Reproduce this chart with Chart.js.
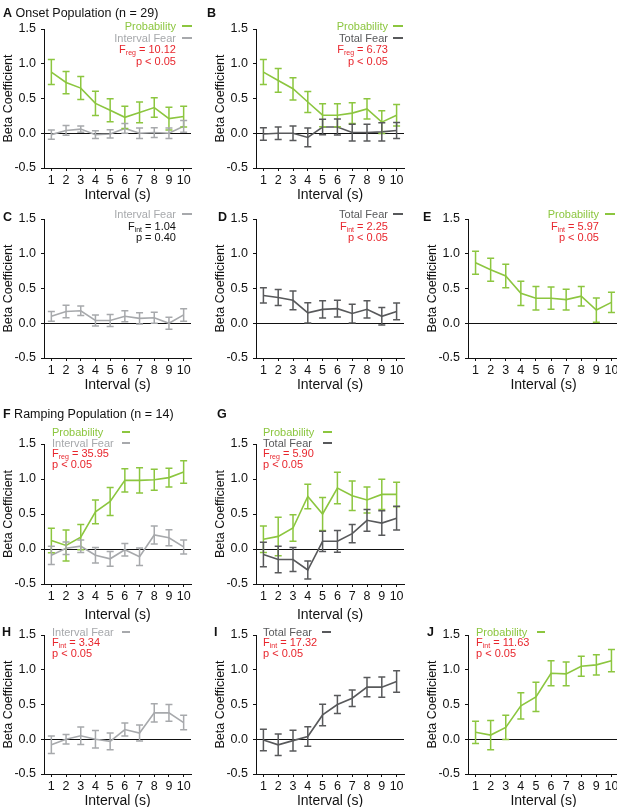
<!DOCTYPE html>
<html lang="en">
<head>
<meta charset="UTF-8">
<title>Beta Coefficients by Interval</title>
<script src="https://cdn.jsdelivr.net/npm/chart.js"></script>
<style>
    html, body {
        margin: 0;
        padding: 0;
        background: #fff;
        overflow: hidden;
    }
    #fig {
        position: relative;
        width: 617px;
        height: 807px;
        overflow: hidden;
        font-family: Arial, "Liberation Sans", Helvetica, sans-serif;
    }
    #fig canvas {
        position: absolute;
    }
    .txt {
        position: absolute;
        white-space: nowrap;
        font-size: 11px;
        line-height: 12px;
        height: 12px;
    }
    .txt sub {
        font-size: 7px;
        vertical-align: -2px;
        line-height: 0;
    }
    .panel-title {
        font-size: 12.5px;
        line-height: 14px;
        height: 14px;
        color: #111;
    }
    .panel-title b {
        font-weight: bold;
    }
    .key {
        position: absolute;
        height: 1.6px;
    }
</style>
</head>
<body>
<div id="fig"></div>
<script>
    // x categories
    const intervals = ["1", "2", "3", "4", "5", "6", "7", "8", "9", "10"];
    const yTicks = [-0.5, 0, 0.5, 1.0, 1.5];

    // A: onset population, regression
    const aProb = [0.88, 0.73, 0.65, 0.43, 0.33, 0.23, 0.30, 0.37, 0.21, 0.24];
    const aProbErr = [0.18, 0.16, 0.165, 0.175, 0.165, 0.16, 0.15, 0.14, 0.165, 0.15];
    const aIntFear = [-0.02, 0.04, 0.06, -0.02, -0.01, 0.07, 0.00, 0.01, 0.00, 0.10];
    const aIntFearErr = [0.065, 0.07, 0.045, 0.055, 0.06, 0.07, 0.075, 0.07, 0.075, 0.085];

    // B
    const bProb = [0.88, 0.76, 0.64, 0.45, 0.26, 0.26, 0.29, 0.35, 0.16, 0.26];
    const bProbErr = [0.18, 0.17, 0.16, 0.15, 0.165, 0.165, 0.15, 0.145, 0.165, 0.155];
    const bTotFear = [-0.01, 0.00, 0.00, -0.06, 0.09, 0.09, 0.01, 0.01, 0.02, 0.04];
    const bTotFearErr = [0.09, 0.09, 0.105, 0.135, 0.11, 0.115, 0.12, 0.12, 0.13, 0.115];

    // C, D, E: single predictors
    const cIntFear = [0.10, 0.17, 0.18, 0.04, 0.04, 0.10, 0.07, 0.08, 0.00, 0.12];
    const cIntFearErr = [0.07, 0.09, 0.07, 0.08, 0.085, 0.08, 0.08, 0.08, 0.085, 0.09];
    const dTotFear = [0.40, 0.37, 0.33, 0.15, 0.20, 0.21, 0.14, 0.20, 0.10, 0.17];
    const dTotFearErr = [0.11, 0.115, 0.135, 0.145, 0.125, 0.12, 0.135, 0.125, 0.125, 0.12];
    const eProb = [0.87, 0.77, 0.68, 0.43, 0.36, 0.36, 0.34, 0.39, 0.19, 0.30];
    const eProbErr = [0.165, 0.165, 0.17, 0.175, 0.17, 0.16, 0.15, 0.14, 0.175, 0.145];

    // F: ramping population, regression
    const fProb = [0.12, 0.05, 0.17, 0.53, 0.68, 0.98, 0.98, 0.99, 1.02, 1.10];
    const fProbErr = [0.175, 0.22, 0.18, 0.17, 0.20, 0.165, 0.18, 0.15, 0.135, 0.16];
    const fIntFear = [-0.09, 0.01, 0.04, -0.09, -0.14, -0.01, -0.11, 0.20, 0.16, 0.03];
    const fIntFearErr = [0.13, 0.09, 0.09, 0.11, 0.105, 0.09, 0.125, 0.13, 0.115, 0.10];

    // G
    const gProb = [0.14, 0.18, 0.30, 0.75, 0.50, 0.87, 0.76, 0.70, 0.78, 0.78];
    const gProbErr = [0.19, 0.275, 0.19, 0.175, 0.235, 0.225, 0.21, 0.185, 0.215, 0.175];
    const gTotFear = [-0.08, -0.15, -0.15, -0.30, 0.11, 0.11, 0.22, 0.41, 0.37, 0.44];
    const gTotFearErr = [0.175, 0.19, 0.17, 0.13, 0.145, 0.155, 0.13, 0.155, 0.175, 0.17];

    // H, I, J
    const hIntFear = [-0.08, 0.00, 0.05, 0.00, -0.03, 0.14, 0.09, 0.38, 0.38, 0.24];
    const hIntFearErr = [0.125, 0.07, 0.125, 0.125, 0.12, 0.095, 0.115, 0.13, 0.12, 0.105];
    const iTotFear = [-0.01, -0.08, -0.02, 0.04, 0.35, 0.50, 0.59, 0.75, 0.75, 0.83];
    const iTotFearErr = [0.155, 0.155, 0.15, 0.14, 0.155, 0.13, 0.12, 0.14, 0.145, 0.155];
    const jProb = [0.10, 0.06, 0.17, 0.48, 0.61, 0.95, 0.94, 1.05, 1.07, 1.13];
    const jProbErr = [0.16, 0.21, 0.175, 0.19, 0.21, 0.18, 0.17, 0.145, 0.145, 0.16];

    const GREEN = "#8cc63f";
    const LIGHT = "#a7a9ac";
    const DARK = "#58595b";
    const RED = "#e8262d";
    const FONT = 'Arial, "Liberation Sans", Helvetica, sans-serif';

    const PROB = { label: "Probability", color: GREEN };
    const INTF = { label: "Interval Fear", color: LIGHT };
    const TOTF = { label: "Total Fear", color: DARK };

    // axisX / top = pixel position of the y axis and of the 1.5 tick
    const panels = [
        { axisX: 44,  top: 29,  w: 147, h: 139, xh: 37, series: [[PROB, aProb, aProbErr], [INTF, aIntFear, aIntFearErr]] },
        { axisX: 256, top: 29,  w: 148, h: 139, xh: 37, series: [[PROB, bProb, bProbErr], [TOTF, bTotFear, bTotFearErr]] },
        { axisX: 44,  top: 219, w: 147, h: 139, xh: 37, series: [[INTF, cIntFear, cIntFearErr]] },
        { axisX: 256, top: 219, w: 148, h: 139, xh: 37, series: [[TOTF, dTotFear, dTotFearErr]] },
        { axisX: 468, top: 219, w: 151, h: 139, xh: 37, series: [[PROB, eProb, eProbErr]] },
        { axisX: 44,  top: 444, w: 147, h: 140, xh: 41, series: [[PROB, fProb, fProbErr], [INTF, fIntFear, fIntFearErr]] },
        { axisX: 256, top: 444, w: 148, h: 140, xh: 41, series: [[PROB, gProb, gProbErr], [TOTF, gTotFear, gTotFearErr]] },
        { axisX: 44,  top: 635, w: 147, h: 139, xh: 37, series: [[INTF, hIntFear, hIntFearErr]] },
        { axisX: 256, top: 635, w: 148, h: 139, xh: 37, series: [[TOTF, iTotFear, iTotFearErr]] },
        { axisX: 468, top: 635, w: 151, h: 139, xh: 37, series: [[PROB, jProb, jProbErr]] }
    ];

    // vertical error bars with caps, drawn through the y scale
    const errorBars = {
        id: "errorBars",
        afterDatasetsDraw(chart) {
            const ctx = chart.ctx;
            const y = chart.scales.y;
            chart.data.datasets.forEach((ds, i) => {
                const meta = chart.getDatasetMeta(i);
                ctx.save();
                ctx.strokeStyle = ds.borderColor;
                ctx.lineWidth = 1.5;
                meta.data.forEach((pt, j) => {
                    const hi = y.getPixelForValue(ds.data[j] + ds.errors[j]);
                    const lo = y.getPixelForValue(ds.data[j] - ds.errors[j]);
                    ctx.beginPath();
                    ctx.moveTo(pt.x, hi); ctx.lineTo(pt.x, lo);
                    ctx.moveTo(pt.x - 3.5, hi); ctx.lineTo(pt.x + 3.5, hi);
                    ctx.moveTo(pt.x - 3.5, lo); ctx.lineTo(pt.x + 3.5, lo);
                    ctx.stroke();
                });
                ctx.restore();
            });
        }
    };

    const fig = document.getElementById("fig");

    panels.forEach(p => {
        const canvas = document.createElement("canvas");
        const cw = 44 + p.w + 8;
        const ch = 29 + p.h + p.xh;
        canvas.width = cw;
        canvas.height = ch;
        canvas.style.width = cw + "px";
        canvas.style.height = ch + "px";
        canvas.style.left = (p.axisX - 44) + "px";
        canvas.style.top = (p.top - 29) + "px";
        fig.appendChild(canvas);

        new Chart(canvas.getContext("2d"), {
            type: "line",
            data: {
                labels: intervals,
                datasets: p.series.map(([s, values, errs]) => ({
                    label: s.label,
                    data: values,
                    errors: errs,
                    borderColor: s.color,
                    borderWidth: 1.6,
                    pointRadius: 0,
                    tension: 0,
                    fill: false,
                    clip: false
                }))
            },
            options: {
                responsive: false,
                animation: false,
                devicePixelRatio: 1,
                layout: { padding: { top: 29, right: 8, left: 0, bottom: 0 } },
                plugins: { legend: { display: false }, tooltip: { enabled: false } },
                scales: {
                    x: {
                        type: "category",
                        offset: true,
                        border: { color: "#111", width: 1 },
                        grid: { drawOnChartArea: false, tickLength: 3, color: "#111" },
                        ticks: { color: "#111", font: { family: FONT, size: 12.5 }, padding: 2, maxRotation: 0, autoSkip: false },
                        title: { display: true, text: "Interval (s)", color: "#111", font: { family: FONT, size: 14 }, padding: { top: 0, bottom: 1 } },
                        afterFit: s => { s.height = p.xh; }
                    },
                    y: {
                        min: -0.5,
                        max: 1.5,
                        afterBuildTicks: s => { s.ticks = yTicks.map(v => ({ value: v })); },
                        border: { color: "#111", width: 1 },
                        grid: {
                            color: c => (c.tick && c.tick.value === 0 ? "#111" : "rgba(0,0,0,0)"),
                            tickColor: "#111",
                            lineWidth: 1,
                            tickLength: 3
                        },
                        ticks: { color: "#111", font: { family: FONT, size: 12.5 }, padding: 5, callback: v => Number(v).toFixed(1) },
                        title: { display: true, text: "Beta Coefficient", color: "#111", font: { family: FONT, size: 12.5 }, padding: { top: 1, bottom: 0 } },
                        afterFit: s => { s.width = 44; }
                    }
                }
            },
            plugins: [errorBars]
        });
    });

    // ---- text overlays (panel letters, legends, stats) ----
    function addText(x, y, html, color, align, cls) {
        const d = document.createElement("div");
        d.className = "txt" + (cls ? " " + cls : "");
        d.innerHTML = html;
        d.style.color = color;
        const lh = cls ? 14 : 12;
        d.style.top = (y - lh / 2) + "px";
        if (align === "right") {
            d.style.left = (x - 300) + "px";
            d.style.width = "300px";
            d.style.textAlign = "right";
        } else {
            d.style.left = x + "px";
        }
        fig.appendChild(d);
    }
    function addKey(x1, x2, y, color) {
        const d = document.createElement("div");
        d.className = "key";
        d.style.left = x1 + "px";
        d.style.width = (x2 - x1) + "px";
        d.style.top = (y - 0.8) + "px";
        d.style.background = color;
        fig.appendChild(d);
    }

    const titles = [
        [3, 13, "<b>A</b> Onset Population (n = 29)"],
        [207, 13, "<b>B</b>"],
        [3, 217, "<b>C</b>"],
        [218, 217, "<b>D</b>"],
        [423, 217, "<b>E</b>"],
        [3, 414, "<b>F</b> Ramping Population (n = 14)"],
        [217, 414, "<b>G</b>"],
        [2, 632, "<b>H</b>"],
        [214, 632, "<b>I</b>"],
        [427, 632, "<b>J</b>"]
    ];
    titles.forEach(t => addText(t[0], t[1], t[2], "#111", "left", "panel-title"));

    // legend rows: [textX, align, keyX1, keyX2, rows[[y, html, color, key]]]
    const legends = [
        [176, "right", 182, 192, [[26, "Probability", GREEN, true], [38, "Interval Fear", LIGHT, true], [49, "F<sub>reg</sub> = 10.12", RED], [61, "p &lt; 0.05", RED]]],
        [388, "right", 393, 403, [[26, "Probability", GREEN, true], [38, "Total Fear", DARK, true], [49, "F<sub>reg</sub> = 6.73", RED], [61, "p &lt; 0.05", RED]]],
        [176, "right", 182, 192, [[214, "Interval Fear", LIGHT, true], [226, "F<sub>int</sub> = 1.04", "#111"], [237, "p = 0.40", "#111"]]],
        [388, "right", 393, 403, [[214, "Total Fear", DARK, true], [226, "F<sub>int</sub> = 2.25", RED], [237, "p &lt; 0.05", RED]]],
        [599, "right", 605, 615, [[214, "Probability", GREEN, true], [226, "F<sub>int</sub> = 5.97", RED], [237, "p &lt; 0.05", RED]]],
        [52, "left", 122, 130, [[432, "Probability", GREEN, true], [443, "Interval Fear", LIGHT, true], [453, "F<sub>reg</sub> = 35.95", RED], [464, "p &lt; 0.05", RED]]],
        [263, "left", 323, 332, [[432, "Probability", GREEN, true], [443, "Total Fear", DARK, true], [453, "F<sub>reg</sub> = 5.90", RED], [464, "p &lt; 0.05", RED]]],
        [52, "left", 122, 130, [[632, "Interval Fear", LIGHT, true], [642, "F<sub>int</sub> = 3.34", RED], [653, "p &lt; 0.05", RED]]],
        [263, "left", 322, 331, [[632, "Total Fear", DARK, true], [642, "F<sub>int</sub> = 17.32", RED], [653, "p &lt; 0.05", RED]]],
        [476, "left", 537, 545, [[632, "Probability", GREEN, true], [642, "F<sub>int</sub> = 11.63", RED], [653, "p &lt; 0.05", RED]]]
    ];
    legends.forEach(([tx, align, k1, k2, rows]) => {
        rows.forEach(([y, html, color, key]) => {
            addText(tx, y, html, color, align);
            if (key) addKey(k1, k2, y, color);
        });
    });
</script>
</body>
</html>
